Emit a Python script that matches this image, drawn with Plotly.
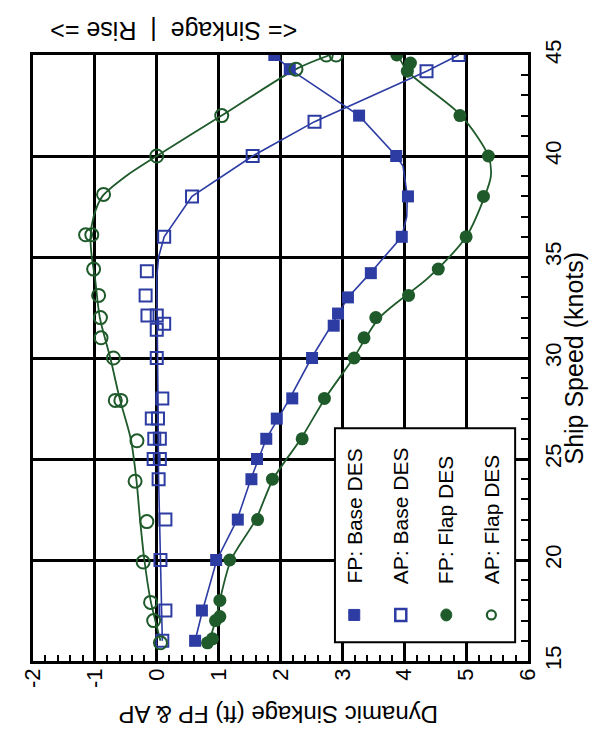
import plotly.graph_objects as go

# ---------------- data ----------------
# Markers: speed (knots) and dynamic sinkage (ft)
FP_BASE_SPEED = [16, 17.5, 20, 22, 24, 25, 26, 27, 28, 30, 31.6, 32.2, 33, 34.2, 36, 38, 40, 42, 44.3, 45]
FP_BASE_SINK  = [0.62, 0.73, 0.96, 1.31, 1.53, 1.62, 1.77, 1.94, 2.19, 2.51, 2.86, 2.93, 3.09, 3.46, 3.96, 4.06, 3.87, 3.27, 2.15, 1.9]

AP_BASE_SPEED = [16, 17.5, 20, 22, 24, 25, 25, 26, 26, 27, 27, 28, 30, 31.4, 31.7, 32.1, 32.1, 33.1, 34.3, 36, 38, 40, 41.7, 44.2, 45]
AP_BASE_SINK  = [0.09, 0.14, 0.06, 0.14, 0.03, -0.05, 0.05, -0.04, 0.05, -0.08, 0.02, 0.09, 0.0, 0.0, 0.12, -0.15, 0.0, -0.18, -0.16, 0.12, 0.57, 1.55, 2.55, 4.36, 4.88]

FP_FLAP_SPEED = [15.9, 16.1, 17, 17.2, 18, 20, 22, 24, 26, 28, 30, 31, 32, 33.1, 34.4, 36, 38, 40, 42, 44.2, 44.6, 45]
FP_FLAP_SINK  = [0.82, 0.9, 0.95, 1.02, 1.02, 1.18, 1.63, 1.87, 2.35, 2.71, 3.19, 3.35, 3.54, 4.07, 4.55, 5.0, 5.28, 5.36, 4.9, 4.05, 4.1, 3.88]

AP_FLAP_SPEED = [15.9, 17, 17.9, 19.9, 21.9, 23.9, 25.9, 27.9, 27.9, 30, 31, 32, 33.1, 34.4, 36.1, 36.1, 38.1, 40, 42, 44.3, 45, 45]
AP_FLAP_SINK  = [0.06, -0.05, -0.1, -0.22, -0.16, -0.35, -0.32, -0.67, -0.58, -0.7, -0.9, -0.91, -0.94, -1.02, -1.15, -1.05, -0.86, 0.0, 1.05, 2.25, 2.74, 2.9]

# Curves drawn through the data
FP_BASE_CURVE_SPEED = [16, 17.5, 20, 22, 24, 26, 28, 30, 32, 33, 34.2, 36, 37, 38, 39.5, 40, 42, 44.3, 45]
FP_BASE_CURVE_SINK  = [0.62, 0.74, 0.97, 1.3, 1.52, 1.77, 2.15, 2.5, 2.9, 3.09, 3.45, 3.96, 4.04, 4.05, 3.98, 3.87, 3.27, 2.15, 1.9]

AP_BASE_CURVE_SPEED = [16, 20, 24, 28, 32, 34, 35, 36, 38, 40, 41.7, 44.2, 45]
AP_BASE_CURVE_SINK  = [0.09, 0.06, 0.03, 0.02, 0.0, 0.0, 0.03, 0.12, 0.57, 1.55, 2.55, 4.36, 4.88]

FP_FLAP_CURVE_SPEED = [16, 17, 18, 20, 22, 24, 26, 28, 30, 32, 34, 36, 38, 39, 40, 42, 44.2, 45]
FP_FLAP_CURVE_SINK  = [0.85, 0.95, 1.02, 1.2, 1.6, 1.88, 2.33, 2.72, 3.18, 3.6, 4.4, 5.0, 5.3, 5.4, 5.36, 4.92, 4.05, 3.9]

AP_FLAP_CURVE_SPEED = [16, 18, 20, 22, 24, 26, 28, 30, 32, 34, 35, 36, 37, 38, 39, 40, 42, 44.3, 45]
AP_FLAP_CURVE_SINK  = [0.06, -0.1, -0.2, -0.27, -0.33, -0.42, -0.6, -0.75, -0.92, -1.0, -1.05, -1.07, -1.02, -0.88, -0.5, 0.0, 1.05, 2.25, 2.8]

SINK_TICKS = [-2, -1, 0, 1, 2, 3, 4, 5, 6]
SPEED_TICKS = [15, 20, 25, 30, 35, 40, 45]

LEGEND_NAMES = ["FP: Base DES", "AP: Base DES", "FP: Flap DES", "AP: Flap DES"]

# ---------------- styling ----------------
BLUE = "#2d3ca3"
GREEN = "#1f5a2b"
FONT = "Liberation Sans, Arial, sans-serif"

fig = go.Figure()

# curves
fig.add_trace(go.Scatter(x=FP_BASE_CURVE_SINK, y=FP_BASE_CURVE_SPEED, mode="lines",
                         line=dict(color=BLUE, width=1.6), showlegend=False, hoverinfo="skip"))
fig.add_trace(go.Scatter(x=AP_BASE_CURVE_SINK, y=AP_BASE_CURVE_SPEED, mode="lines",
                         line=dict(color=BLUE, width=1.6), showlegend=False, hoverinfo="skip"))
fig.add_trace(go.Scatter(x=FP_FLAP_CURVE_SINK, y=FP_FLAP_CURVE_SPEED, mode="lines",
                         line=dict(color=GREEN, width=1.8, shape="spline", smoothing=0.8),
                         showlegend=False, hoverinfo="skip"))
fig.add_trace(go.Scatter(x=AP_FLAP_CURVE_SINK, y=AP_FLAP_CURVE_SPEED, mode="lines",
                         line=dict(color=GREEN, width=1.8, shape="spline", smoothing=0.8),
                         showlegend=False, hoverinfo="skip"))

# markers
fig.add_trace(go.Scatter(x=FP_BASE_SINK, y=FP_BASE_SPEED, mode="markers", name=LEGEND_NAMES[0],
                         marker=dict(symbol="square", size=12, color=BLUE), showlegend=False))
fig.add_trace(go.Scatter(x=AP_BASE_SINK, y=AP_BASE_SPEED, mode="markers", name=LEGEND_NAMES[1],
                         marker=dict(symbol="square-open", size=12, color=BLUE, line=dict(width=2)),
                         showlegend=False))
fig.add_trace(go.Scatter(x=FP_FLAP_SINK, y=FP_FLAP_SPEED, mode="markers", name=LEGEND_NAMES[2],
                         marker=dict(symbol="circle", size=13, color=GREEN), showlegend=False))
fig.add_trace(go.Scatter(x=AP_FLAP_SINK, y=AP_FLAP_SPEED, mode="markers", name=LEGEND_NAMES[3],
                         marker=dict(symbol="circle-open", size=13, color=GREEN, line=dict(width=2)),
                         showlegend=False))

# rotated legend: box, symbols (shapes), labels
fig.add_shape(type="rect", xref="paper", yref="paper", x0=0.61, x1=0.974, y0=0.031, y1=0.384,
              fillcolor="white", line=dict(color="black", width=2), layer="above")

leg_x = [0.649, 0.743, 0.835, 0.926]
leg_y = 0.076
# FP: Base (filled square)
fig.add_shape(type="rect", xref="paper", yref="paper", xsizemode="pixel", ysizemode="pixel",
              xanchor=leg_x[0], yanchor=leg_y, x0=-5.5, x1=5.5, y0=-5.5, y1=5.5,
              fillcolor=BLUE, line=dict(color=BLUE, width=1), layer="above")
# AP: Base (open square)
fig.add_shape(type="rect", xref="paper", yref="paper", xsizemode="pixel", ysizemode="pixel",
              xanchor=leg_x[1], yanchor=leg_y, x0=-5.5, x1=5.5, y0=-6, y1=6,
              fillcolor="white", line=dict(color=BLUE, width=2.5), layer="above")
# FP: Flap (filled circle)
fig.add_shape(type="circle", xref="paper", yref="paper", xsizemode="pixel", ysizemode="pixel",
              xanchor=leg_x[2], yanchor=leg_y, x0=-5.5, x1=5.5, y0=-6, y1=6,
              fillcolor=GREEN, line=dict(color=GREEN, width=1), layer="above")
# AP: Flap (open circle)
fig.add_shape(type="circle", xref="paper", yref="paper", xsizemode="pixel", ysizemode="pixel",
              xanchor=leg_x[3], yanchor=leg_y, x0=-4.5, x1=4.5, y0=-4.5, y1=4.5,
              fillcolor="white", line=dict(color=GREEN, width=2.2), layer="above")

for i in range(4):
    fig.add_annotation(xref="paper", yref="paper", x=leg_x[i], y=0.124, text=LEGEND_NAMES[i],
                       textangle=-90, showarrow=False, xanchor="center", yanchor="bottom",
                       font=dict(family=FONT, size=21, color="black"))

# axis titles as rotated annotations
fig.add_annotation(xref="paper", yref="paper", x=1.092, y=0.5, text="Ship Speed (knots)",
                   textangle=-90, showarrow=False, xanchor="center", yanchor="middle",
                   font=dict(family=FONT, size=25, color="black"))
fig.add_annotation(xref="paper", yref="paper", x=0.495, y=-0.088, text="Dynamic Sinkage (ft) FP &amp; AP",
                   textangle=180, showarrow=False, xanchor="center", yanchor="middle",
                   font=dict(family=FONT, size=24, color="black"))
fig.add_annotation(xref="paper", yref="paper", x=0.285, y=1.04, text="&lt;= Sinkage  |  Rise =&gt;",
                   textangle=180, showarrow=False, xanchor="center", yanchor="middle",
                   font=dict(family=FONT, size=25, color="black"))

fig.update_layout(
    width=603, height=737, autosize=False,
    margin=dict(l=22, r=83, t=47, b=84),
    paper_bgcolor="white", plot_bgcolor="white",
    showlegend=False,
    font=dict(family=FONT, color="black"),
    xaxis=dict(range=[-2, 6], tickvals=SINK_TICKS, ticktext=[str(v) for v in SINK_TICKS],
               tickangle=-90, tickfont=dict(size=22, color="black"),
               showgrid=True, gridcolor="black", gridwidth=2.5, zeroline=False,
               showline=True, linecolor="black", linewidth=2.5, mirror=True,
               ticks="inside", ticklen=8, tickwidth=1.5, tickcolor="black",
               minor=dict(dtick=0.2, ticks="inside", ticklen=6, tickwidth=1.5, tickcolor="black",
                          showgrid=False),
               ticklabelstandoff=-4),
    yaxis=dict(range=[15, 45], tickvals=SPEED_TICKS, ticktext=[str(v) for v in SPEED_TICKS],
               side="right", tickangle=-90, tickfont=dict(size=22, color="black"),
               showgrid=True, gridcolor="black", gridwidth=2.5, zeroline=False,
               showline=True, linecolor="black", linewidth=2.5, mirror=True,
               ticks="inside", ticklen=9, tickwidth=1.5, tickcolor="black",
               minor=dict(dtick=1, ticks="inside", ticklen=7, tickwidth=1.5, tickcolor="black",
                          showgrid=False),
               ticklabelstandoff=4),
)

fig.write_html("out.html")
